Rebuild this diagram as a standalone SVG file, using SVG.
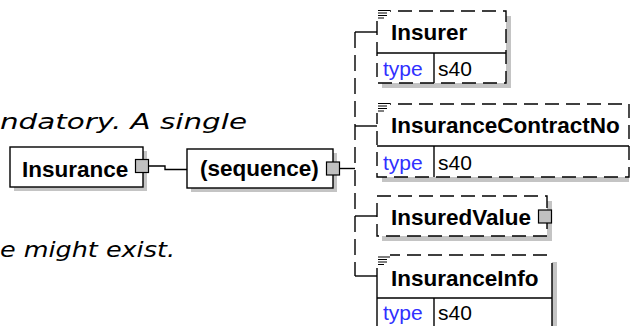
<svg xmlns="http://www.w3.org/2000/svg" width="635" height="326" viewBox="0 0 635 326">
<style>
.box{fill:#fff;stroke:#000;stroke-width:1.4}
.dash{fill:#fff;stroke:#000;stroke-width:1.4;stroke-dasharray:14,7}
.shadow{fill:#c4c4c4}
.name{font-family:"Liberation Sans",Arial,sans-serif;font-weight:bold;font-size:22.5px;fill:#000}
.typ{font-family:"Liberation Sans",Arial,sans-serif;font-size:21px;fill:#3030ff}
.val{font-family:"Liberation Sans",Arial,sans-serif;font-size:21px;fill:#000}
.note{font-family:"DejaVu Sans",Verdana,sans-serif;font-style:italic;font-size:22px;fill:#000}
.ln{fill:none;stroke:#000;stroke-width:1.4}
.vdash{fill:none;stroke:#000;stroke-width:1.4;stroke-dasharray:16,7}
.sq{fill:#c0c0c0;stroke:#000;stroke-width:1.2}
.ico{stroke:#000;stroke-width:1.2}
</style>

<g id="notes">
<text class="note" x="0" y="129" textLength="247" lengthAdjust="spacingAndGlyphs">ndatory. A single</text>
<text class="note" x="0" y="257" textLength="175" lengthAdjust="spacingAndGlyphs">e might exist.</text>
</g>

<g id="connectors">
<path class="ln" d="M149,166 H165 V169.5 H187"/>
<path class="ln" d="M340,168.5 H355"/>
<path class="vdash" d="M355,32 V276"/>
<path class="ln" d="M355,32 H377"/>
<path class="ln" d="M355,126 H377"/>
<path class="ln" d="M355,216 H377"/>
<path class="ln" d="M355,276 H377"/>
</g>

<g id="Insurance">
<rect class="shadow" x="14" y="151" width="133" height="40"/>
<rect class="box" x="10" y="147" width="133" height="40"/>
<text class="name" x="22" y="177">Insurance</text>
<rect class="sq" x="135.5" y="159.5" width="13" height="13"/>
</g>

<g id="sequence">
<rect class="shadow" x="191" y="153" width="146" height="39"/>
<rect class="box" x="187" y="149" width="146" height="39"/>
<text class="name" x="200" y="176">(sequence)</text>
<rect class="sq" x="326.5" y="162" width="13" height="13"/>
</g>

<g id="Insurer">
<rect class="shadow" x="382" y="16" width="129" height="72"/>
<rect class="dash" x="377" y="11" width="129" height="72"/>
<line class="ln" x1="377" y1="53" x2="506" y2="53"/>
<line class="ln" x1="434" y1="53" x2="434" y2="83"/>
<rect x="376" y="9" width="14" height="11" fill="#fff"/>
<path class="ico" d="M378,10.5h12 M378,13h9 M378,15.5h9 M378,18h6"/>
<text class="name" x="391" y="40">Insurer</text>
<text class="typ" x="383" y="76">type</text>
<text class="val" x="438" y="76">s40</text>
</g>

<g id="InsuranceContractNo">
<rect class="shadow" x="382" y="109" width="247" height="73"/>
<rect class="dash" x="377" y="104" width="252" height="73"/>
<line class="ln" x1="377" y1="146" x2="629" y2="146"/>
<line class="ln" x1="434" y1="146" x2="434" y2="177"/>
<rect x="376" y="102" width="14" height="11" fill="#fff"/>
<path class="ico" d="M378,103.5h12 M378,106h9 M378,108.5h9 M378,111h6"/>
<text class="name" x="391" y="133">InsuranceContractNo</text>
<text class="typ" x="383" y="170">type</text>
<text class="val" x="438" y="170">s40</text>
</g>

<g id="InsuredValue">
<rect class="shadow" x="382" y="201" width="170" height="40"/>
<rect class="dash" x="377" y="196" width="170" height="40"/>
<text class="name" x="391" y="224.5">InsuredValue</text>
<rect class="sq" x="538.5" y="210" width="13" height="13"/>
</g>

<g id="InsuranceInfo">
<rect class="shadow" x="552" y="262" width="5" height="70"/>
<rect x="377" y="255" width="175" height="80" fill="#fff"/>
<line class="ln" x1="386" y1="255" x2="552" y2="255" style="stroke-dasharray:14,7"/>
<path class="ln" d="M552,263 V335 M377,268 V335 M377,298 H552 M434,298 V335"/>
<rect x="376" y="253" width="14" height="11" fill="#fff"/>
<path class="ico" d="M378,257h12 M378,259.5h9 M378,262h9 M378,264.5h6"/>
<text class="name" x="391" y="286">InsuranceInfo</text>
<text class="typ" x="383" y="320">type</text>
<text class="val" x="438" y="320">s40</text>
</g>
</svg>
